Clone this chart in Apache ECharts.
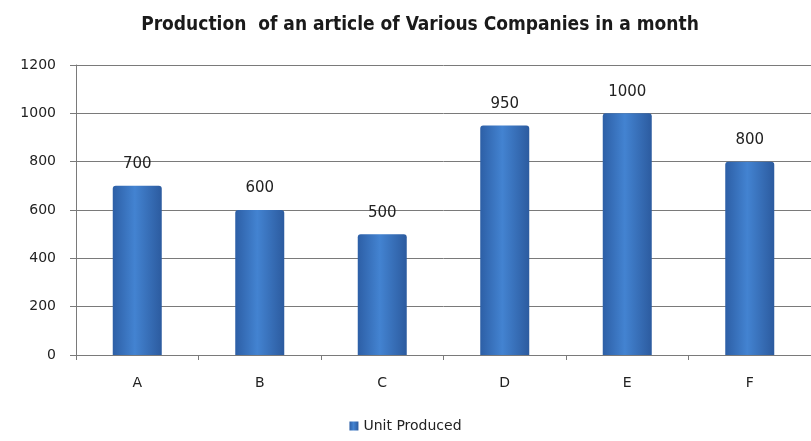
<!DOCTYPE html>
<html>
<head>
<meta charset="utf-8">
<script src="https://cdn.jsdelivr.net/npm/echarts@6/dist/echarts.min.js"></script>
<style>
  html, body { margin: 0; padding: 0; background: #fff; }
  #chart { width: 811px; height: 441px; }
</style>
</head>
<body>
<div id="chart"></div>
<script>
// values
const companies = ['A', 'B', 'C', 'D', 'E', 'F'];
const unitsProduced = [700, 600, 500, 950, 1000, 800];
const seriesName = 'Unit Produced';

const chart = echarts.init(document.getElementById('chart'));

const barColor = new echarts.graphic.LinearGradient(0, 0, 1, 0, [
    {offset: 0, color: '#2d5fa6'},
    {offset: 0.45, color: '#4383d1'},
    {offset: 1, color: '#2c5b9f'}
]);

chart.setOption({
    animation: false,
    title: {
        text: 'Production  of an article of Various Companies in a month',
        left: 415, top: 11, textAlign: 'center',
        textStyle: {fontFamily: 'DejaVu Sans Condensed', fontWeight: 'bold', fontSize: 19, color: '#1a1a1a'}
    },
    legend: {
        bottom: 3, left: 'center', itemWidth: 9, itemHeight: 9, itemGap: 5,
        icon: 'rect',
        textStyle: {fontFamily: 'DejaVu Sans', fontSize: 14, color: '#222'},
        data: [seriesName]
    },
    grid: {left: 76, right: 0, top: 65, bottom: 86},
    xAxis: {
        type: 'category',
        data: companies,
        axisLine: {lineStyle: {color: '#7a7a7a'}},
        axisTick: {show: true, length: 5, lineStyle: {color: '#7a7a7a'}},
        axisLabel: {fontFamily: 'DejaVu Sans', fontSize: 14, color: '#222', margin: 21}
    },
    yAxis: {
        type: 'value', min: 0, max: 1200, interval: 200,
        axisLine: {show: true, lineStyle: {color: '#7a7a7a'}},
        axisTick: {show: true, length: 6, lineStyle: {color: '#7a7a7a'}},
        axisLabel: {
            fontFamily: 'DejaVu Sans', fontSize: 14, color: '#222', margin: 20,
            formatter: v => String(v)
        },
        splitLine: {lineStyle: {color: '#7a7a7a'}}
    },
    series: [{
        name: seriesName,
        type: 'bar',
        data: unitsProduced,
        barWidth: 49,
        itemStyle: {color: barColor, borderRadius: [3, 3, 0, 0]},
        label: {
            show: true, position: 'top', distance: 14,
            fontFamily: 'DejaVu Sans', fontSize: 15, color: '#222'
        }
    }]
});
</script>
</body>
</html>
